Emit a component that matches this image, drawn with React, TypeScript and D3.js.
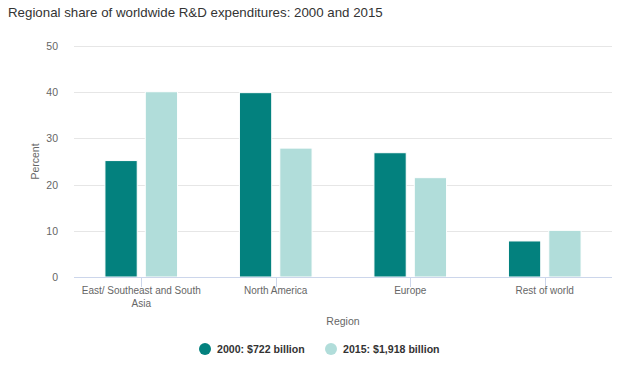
import React from "react";
import * as d3 from "d3";

const categories = ["East/ Southeast and South Asia", "North America", "Europe", "Rest of world"];
const seriesNames = ["2000: $722 billion", "2015: $1,918 billion"];
const values2000 = [25.2, 39.9, 26.9, 7.8];
const values2015 = [40.1, 27.9, 21.5, 10.1];
const yTicks = [0, 10, 20, 30, 40, 50];
const colors = ["#03817e", "#b1ddda"];

const W = 639, H = 370;
const left = 74, right = 612, top = 46, bottom = 277;
const font = "'Liberation Sans', Arial, Helvetica, sans-serif";

export default function App() {
  const x = d3.scaleBand<string>().domain(categories).range([left, right]).paddingInner(0).paddingOuter(0);
  const y = d3.scaleLinear().domain([0, 50]).range([bottom, top]);
  const bw = x.bandwidth();
  const inner = d3.scaleBand<number>().domain([0, 1]).range([bw * 0.2, bw * 0.8]).paddingInner(0.2).paddingOuter(0.1);
  const series = [values2000, values2015];

  return (
    <svg width={W} height={H} style={{ position: "absolute", left: 0, top: 0, fontFamily: font }}>
      <rect width={W} height={H} fill="#fff" />
      <text x={8} y={17} fontSize={13.3} fill="#333">Regional share of worldwide R&amp;D expenditures: 2000 and 2015</text>
      {yTicks.map((t) => (
        <g key={t}>
          {t > 0 && <line x1={left} x2={right} y1={Math.round(y(t)) + 0.5} y2={Math.round(y(t)) + 0.5} stroke="#e6e6e6" />}
          <text x={58} y={y(t) + 4} fontSize={10.5} fill="#666" textAnchor="end">{t}</text>
        </g>
      ))}
      <text transform={`translate(39,${(top + bottom) / 2}) rotate(-90)`} fontSize={10.5} fill="#666" textAnchor="middle">Percent</text>
      {series.map((vals, si) =>
        categories.map((c, ci) => {
          const x0 = (x(c) as number) + (inner(si) as number);
          const w = inner.bandwidth();
          return (
            <rect key={`${si}-${ci}`} x={x0} y={y(vals[ci])} width={w} height={bottom - y(vals[ci])} fill={colors[si]} stroke="#fff" strokeWidth={1} />
          );
        })
      )}
      <line x1={left} x2={right} y1={bottom + 0.5} y2={bottom + 0.5} stroke="#ccd6eb" />
      {categories.map((c) => {
        const cx = (x(c) as number) + bw / 2;
        const lines = c === categories[0] ? ["East/ Southeast and South", "Asia"] : [c];
        return (
          <g key={c}>
            <line x1={Math.round(cx) + 0.5} x2={Math.round(cx) + 0.5} y1={bottom} y2={bottom + 10} stroke="#ccd6eb" />
            {lines.map((l, i) => (
              <text key={i} x={cx} y={bottom + 17 + i * 13} fontSize={10} fill="#666" textAnchor="middle">{l}</text>
            ))}
          </g>
        );
      })}
      <text x={(left + right) / 2} y={325} fontSize={10.5} fill="#666" textAnchor="middle">Region</text>
      {seriesNames.map((n, i) => {
        const cx = i === 0 ? 205 : 331;
        return (
          <g key={n}>
            <circle cx={cx} cy={349} r={6} fill={colors[i]} />
            <text x={cx + 12} y={353} fontSize={10.6} fontWeight="bold" fill="#333">{n}</text>
          </g>
        );
      })}
    </svg>
  );
}
